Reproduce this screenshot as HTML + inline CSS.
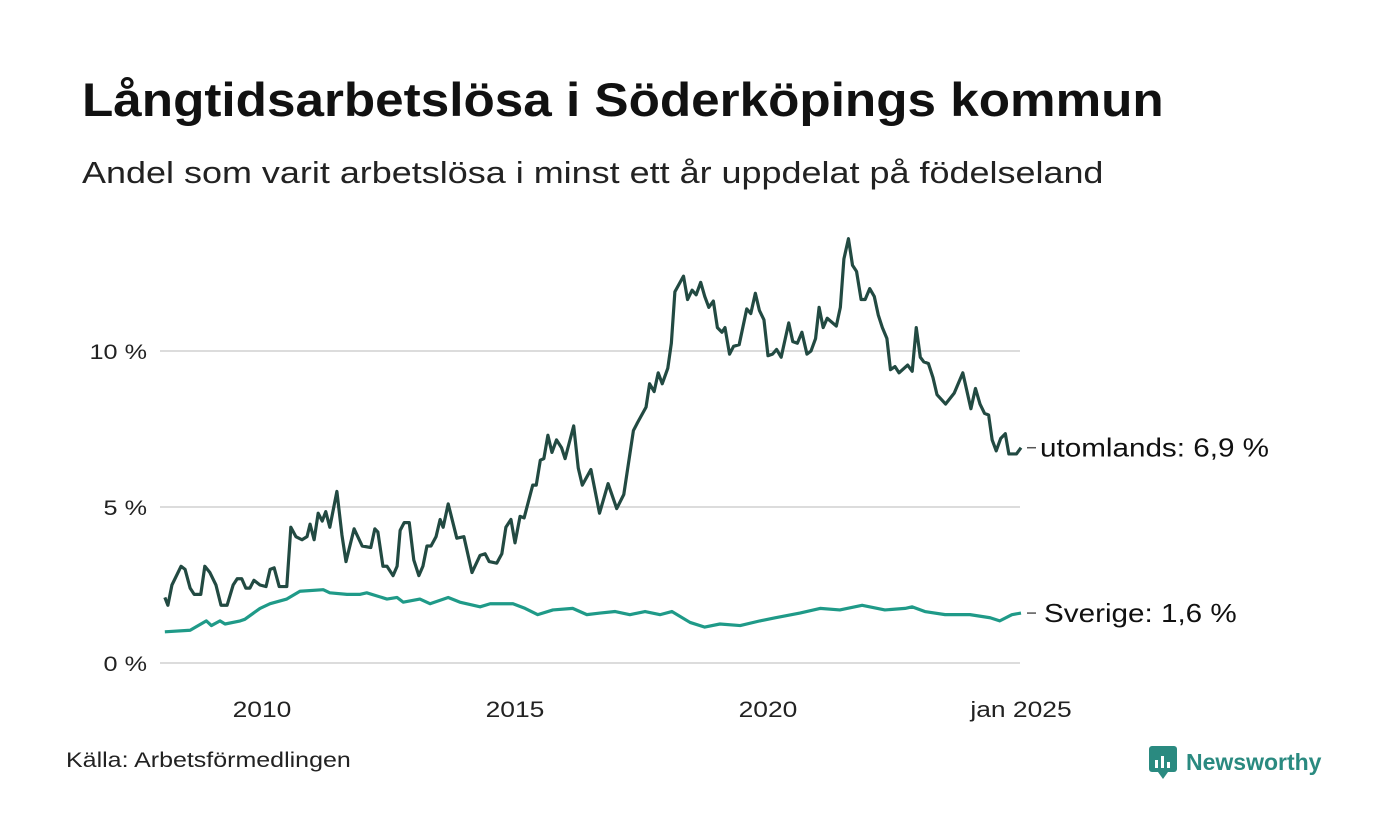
<!DOCTYPE html>
<html><head><meta charset="utf-8">
<style>
body{margin:0;background:#fff;font-family:"Liberation Sans",sans-serif;}
#wrap{position:relative;width:1400px;height:840px;overflow:hidden;background:#fff;}
h1{position:absolute;left:82px;top:72px;margin:0;font-size:47px;font-weight:bold;color:#111;transform:scaleX(1.09);transform-origin:left top;white-space:nowrap}
.sub{position:absolute;left:82px;top:155px;font-size:31px;color:#222;transform:scaleX(1.16);transform-origin:left top;white-space:nowrap}
.src{position:absolute;left:66px;top:749px;font-size:21px;color:#222;transform:scaleX(1.19);transform-origin:left top;white-space:nowrap}
</style></head><body>
<div id="wrap">
<h1>Långtidsarbetslösa i Söderköpings kommun</h1>
<div class="sub">Andel som varit arbetslösa i minst ett år uppdelat på födelseland</div>
<svg id="chart" width="1400" height="840" style="position:absolute;left:0;top:0"></svg>
<div class="src">Källa: Arbetsförmedlingen</div>
<div style="position:absolute;left:1148px;top:744px;height:36px;display:flex;align-items:center">
<svg width="30" height="36"><rect x="1" y="2" width="28" height="26" rx="3" fill="#2a8a80"/><path d="M10 28 L15 35 L20 28Z" fill="#2a8a80"/><rect x="7" y="16" width="3" height="8" fill="#fff"/><rect x="13" y="12" width="3" height="12" fill="#fff"/><rect x="19" y="18" width="3" height="6" fill="#fff"/></svg>
<span style="font-size:23px;font-weight:bold;color:#2a8a80;margin-left:8px">Newsworthy</span>
</div>
</div>
<script>
const foreignDates=[2008.08,2008.14,2008.22,2008.40,2008.48,2008.58,2008.66,2008.79,2008.87,2008.97,2009.09,2009.19,2009.31,2009.43,2009.51,2009.60,2009.68,2009.76,2009.84,2009.96,2010.08,2010.16,2010.24,2010.34,2010.49,2010.57,2010.67,2010.79,2010.89,2010.95,2011.03,2011.11,2011.19,2011.26,2011.34,2011.48,2011.58,2011.66,2011.82,2011.98,2012.15,2012.23,2012.29,2012.39,2012.47,2012.59,2012.67,2012.73,2012.81,2012.91,2013.00,2013.10,2013.18,2013.26,2013.34,2013.44,2013.52,2013.58,2013.68,2013.85,2013.99,2014.15,2014.31,2014.41,2014.49,2014.64,2014.74,2014.82,2014.92,2015.00,2015.10,2015.18,2015.35,2015.42,2015.50,2015.57,2015.65,2015.73,2015.82,2015.92,2015.99,2016.16,2016.25,2016.33,2016.50,2016.67,2016.84,2017.01,2017.15,2017.34,2017.42,2017.59,2017.66,2017.75,2017.83,2017.91,2018.02,2018.09,2018.16,2018.33,2018.41,2018.50,2018.58,2018.67,2018.75,2018.83,2018.92,2019.00,2019.09,2019.15,2019.24,2019.32,2019.43,2019.58,2019.66,2019.75,2019.83,2019.92,2020.00,2020.09,2020.17,2020.26,2020.41,2020.49,2020.58,2020.67,2020.77,2020.85,2020.94,2021.01,2021.09,2021.17,2021.35,2021.43,2021.50,2021.59,2021.67,2021.75,2021.84,2021.92,2022.01,2022.10,2022.18,2022.26,2022.35,2022.42,2022.51,2022.59,2022.76,2022.85,2022.93,2023.01,2023.08,2023.17,2023.26,2023.34,2023.51,2023.68,2023.85,2024.01,2024.10,2024.19,2024.28,2024.36,2024.43,2024.51,2024.60,2024.69,2024.76,2024.91,2025.0];
const foreignValues=[2.1,1.85,2.5,3.1,3.0,2.4,2.2,2.2,3.1,2.9,2.5,1.85,1.85,2.5,2.7,2.7,2.4,2.4,2.65,2.5,2.45,3.0,3.05,2.45,2.45,4.35,4.05,3.95,4.05,4.45,3.95,4.8,4.55,4.85,4.35,5.5,4.1,3.25,4.3,3.75,3.7,4.3,4.2,3.1,3.1,2.8,3.1,4.25,4.5,4.5,3.3,2.8,3.1,3.75,3.75,4.05,4.6,4.35,5.1,4.0,4.05,2.9,3.45,3.5,3.25,3.2,3.5,4.35,4.6,3.85,4.7,4.65,5.7,5.7,6.5,6.55,7.3,6.75,7.15,6.9,6.55,7.6,6.25,5.7,6.2,4.8,5.75,4.95,5.4,7.45,7.7,8.2,8.95,8.7,9.3,8.95,9.45,10.25,11.9,12.4,11.65,11.95,11.8,12.2,11.75,11.4,11.6,10.75,10.6,10.75,9.9,10.15,10.2,11.35,11.2,11.85,11.3,11.0,9.85,9.9,10.05,9.8,10.9,10.3,10.25,10.6,9.9,10.0,10.4,11.4,10.75,11.05,10.8,11.4,12.95,13.6,12.75,12.55,11.65,11.65,12.0,11.75,11.15,10.75,10.4,9.4,9.5,9.3,9.55,9.35,10.75,9.8,9.65,9.6,9.15,8.6,8.3,8.65,9.3,8.15,8.8,8.3,8.0,7.95,7.15,6.8,7.2,7.35,6.7,6.7,6.9];
const swedenDates=[2008.08,2008.58,2008.9,2009.0,2009.17,2009.27,2009.57,2009.66,2009.96,2010.16,2010.49,2010.75,2011.21,2011.34,2011.68,2011.94,2012.07,2012.47,2012.67,2012.79,2013.12,2013.32,2013.68,2013.91,2014.31,2014.51,2014.96,2015.2,2015.45,2015.75,2016.14,2016.42,2016.68,2016.98,2017.27,2017.57,2017.87,2018.1,2018.46,2018.75,2019.05,2019.45,2019.84,2020.14,2020.63,2021.03,2021.42,2021.86,2022.31,2022.71,2022.85,2023.10,2023.50,2023.99,2024.39,2024.58,2024.82,2025.0];
const swedenValues=[1.0,1.05,1.35,1.2,1.35,1.25,1.35,1.4,1.75,1.9,2.05,2.3,2.35,2.25,2.2,2.2,2.25,2.05,2.1,1.95,2.05,1.9,2.1,1.95,1.8,1.9,1.9,1.75,1.55,1.7,1.75,1.55,1.6,1.65,1.55,1.65,1.55,1.65,1.3,1.15,1.25,1.2,1.35,1.45,1.6,1.75,1.7,1.85,1.7,1.75,1.8,1.65,1.55,1.55,1.45,1.35,1.55,1.6];
const yTicks=[0,5,10];
const yTickLabels=["0 %","5 %","10 %"];
const xTicks=[2010,2015,2020,2025];
const xTickLabels=["2010","2015","2020","jan 2025"];
const seriesLabels=["utomlands: 6,9 %","Sverige: 1,6 %"];

const NS="http://www.w3.org/2000/svg";
const svg=document.getElementById('chart');
const xS=y=>262+(y-2010)*50.6;
const yS=v=>663-v*31.2;
function mk(t,a){const e=document.createElementNS(NS,t);for(const k in a)e.setAttribute(k,a[k]);svg.appendChild(e);return e;}
function widen(el,f){const w=el.getComputedTextLength();el.setAttribute('textLength',w*f);el.setAttribute('lengthAdjust','spacingAndGlyphs');}
yTicks.forEach((t,i)=>{
  const g=mk('line',{x1:160,x2:1020,y1:yS(t),y2:yS(t),stroke:'#dcdcdc','stroke-width':2});
  
  
  const l=mk('text',{x:147,y:yS(t)+8,'text-anchor':'end','font-size':21,fill:'#222','font-family':'Liberation Sans, sans-serif'});
  l.textContent=yTickLabels[i];
  
  
  widen(l,1.2);
});
xTicks.forEach((t,i)=>{
  const l=mk('text',{x:xS(t),y:717,'text-anchor':'middle','font-size':22,fill:'#222','font-family':'Liberation Sans, sans-serif'});
  l.textContent=xTickLabels[i];
  
  
  widen(l,1.2);
});
function line(d,v,c,name){
  const p=mk('polyline',{points:d.map((x,i)=>xS(x)+','+yS(v[i])).join(' '),fill:'none',stroke:c,'stroke-width':3.2,'stroke-linejoin':'round'});
  
  
}
line(swedenDates,swedenValues,'#1f9a88','sverige-line');
line(foreignDates,foreignValues,'#224a42','utomlands-line');
const ends=[[foreignValues[foreignValues.length-1],1040],[swedenValues[swedenValues.length-1],1044]];
ends.forEach((e,i)=>{
  const y=yS(e[0]);
  const d=mk('line',{x1:1027,x2:1036,y1:y,y2:y,stroke:'#555','stroke-width':1.5});
  
  
  const t=mk('text',{x:e[1],y:y+9,'font-size':26,fill:'#111','font-family':'Liberation Sans, sans-serif'});
  t.textContent=seriesLabels[i];
  
  
  widen(t,1.14);
});
</script>
</body></html>
